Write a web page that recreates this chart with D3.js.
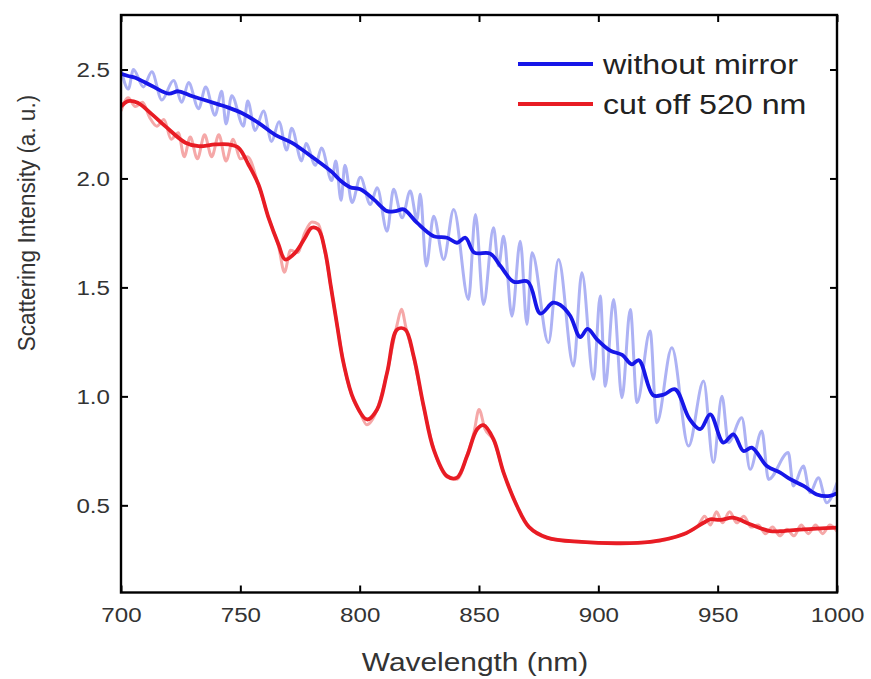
<!DOCTYPE html>
<html>
  <head>
    <script type="text/javascript" src="https://d3js.org/d3.v7.min.js"></script>
    <style>
      body { margin: 0; background: #fff; }
      text { font-family: "Liberation Sans", Arial, sans-serif; }
    </style>
  </head>
  <body>
  </body>
  <script>

  // ---- data ----
  var xTicks = [700, 750, 800, 850, 900, 950, 1000];
  var yTicks = [0.5, 1.0, 1.5, 2.0, 2.5];

  // smoothed "without mirror" curve [wavelength, intensity]
  var blueSmooth = [
    [700,2.48],[703,2.47],[706,2.462],[713,2.424],[720,2.389],[724,2.40],[729.6,2.378],[735,2.36],
    [740.8,2.34],[745,2.325],[750.6,2.30],[757.6,2.255],[764.6,2.20],[771.5,2.164],[779.9,2.10],
    [788.3,2.03],[792,1.99],[796,1.96],[800.3,1.95],[805.9,1.904],[811.5,1.85],[815,1.85],[818.4,1.858],
    [824,1.797],[831,1.735],[836.6,1.728],[840.8,1.705],[844.3,1.728],[848,1.66],[854.7,1.655],
    [859,1.598],[864.5,1.526],[870.5,1.526],[875.7,1.38],[881,1.43],[884,1.42],[888.2,1.37],
    [892.4,1.272],[895.5,1.31],[899.4,1.262],[905,1.21],[910,1.19],[914,1.147],[917,1.166],
    [923,1.005],[927.3,1.008],[932.2,1.032],[938,0.90],[942.7,0.85],[946.9,0.917],[952.4,0.788],
    [956.6,0.826],[960.8,0.749],[964.3,0.765],[970.6,0.68],[976.2,0.65],[980.4,0.62],[986,0.589],
    [991.5,0.55],[997,0.543],[1000,0.556]
  ];

  // raw (oscillating) "without mirror" trace
  var blueRaw = [
    [700,2.50],[703.1,2.41],[705.2,2.50],[709.4,2.42],[712.9,2.49],[717.1,2.36],[722,2.45],[725.5,2.35],
    [728.3,2.44],[732.5,2.32],[735.5,2.42],[739.4,2.29],[742.2,2.40],[744,2.25],[746.4,2.38],[751.3,2.24],
    [753.1,2.355],[756.2,2.22],[759.7,2.31],[763.1,2.17],[766.2,2.26],[769.4,2.13],[771.5,2.23],[775.7,2.08],
    [777.5,2.16],[781.5,2.06],[784,2.14],[788.3,1.99],[790,2.08],[792.2,1.90],
    [793.8,2.06],[796.8,1.89],[800.3,2.005],[804.5,1.88],[807.3,1.957],[811.5,1.758],[814.2,1.95],
    [817.8,1.82],[821.2,1.942],[824,1.812],[825.4,1.927],[827.9,1.598],[831,1.827],[835.2,1.628],
    [839.4,1.858],[845.6,1.445],[848.5,1.835],[851.9,1.422],[856.1,1.774],[858.2,1.598],[860.3,1.735],
    [863.8,1.368],[867.3,1.712],[870.1,1.33],[872.2,1.659],[879.1,1.246],[883.3,1.628],[889.6,1.139],
    [893.1,1.567],[898,1.078],[900.8,1.46],[902.9,1.047],[906.4,1.445],[909.9,0.994],[913.4,1.399],
    [916.2,0.971],[921.7,1.30],[924.5,0.879],[930.8,1.223],[937.8,0.772],[944.1,1.07],[948.2,0.696],
    [951.8,1.001],[954.5,0.788],[960.1,0.902],[963.6,0.665],[968.5,0.841],[971.3,0.619],[979.6,0.742],
    [981.7,0.589],[985.9,0.68],[988.7,0.558],[992.2,0.627],[995.7,0.512],[1000,0.604]
  ];

  // smoothed "cut off 520 nm" curve
  var redSmooth = [
    [700,2.33],[703,2.355],[707,2.347],[713,2.294],[718.5,2.24],[727,2.164],[732.5,2.148],[739.4,2.156],
    [745,2.156],[749.2,2.141],[753.4,2.064],[757.6,1.972],[761.8,1.82],[766,1.697],[768.8,1.628],
    [773,1.659],[777.1,1.728],[779.9,1.774],[782.7,1.766],[785.5,1.667],[788,1.50],[790.5,1.33],
    [793.3,1.15],[797.5,0.986],[803.1,0.894],[807.3,0.94],[811.5,1.109],[815.7,1.307],[819.1,1.307],
    [822.6,1.185],[826.8,0.955],[831,0.757],[836.6,0.634],[840.8,0.627],[845,0.726],[849.2,0.849],
    [851.9,0.868],[856.1,0.803],[860.3,0.65],[865.9,0.497],[871,0.40],[878.5,0.352],[893,0.332],
    [907.8,0.326],[921.7,0.332],[935.7,0.367],[944.1,0.42],[946.9,0.436],[951.1,0.433],[956.6,0.443],
    [963.6,0.413],[972,0.382],[977.6,0.382],[985.9,0.39],[1000,0.398]
  ];

  // raw "cut off 520 nm" trace
  var redRaw = [
    [700,2.31],[703,2.37],[706,2.33],[709,2.35],[712,2.28],[715,2.24],[718,2.27],[721,2.18],[724,2.21],
    [726.5,2.10],[729,2.19],[732,2.09],[735,2.20],[738,2.10],[741,2.20],[744,2.08],[747,2.18],[750,2.09],
    [753,2.10],[757.6,1.97],[761.8,1.82],[766,1.69],[768.5,1.57],[771,1.67],[774,1.66],[777,1.75],
    [780,1.80],[782.7,1.79],[785.5,1.66],[788,1.50],[790.5,1.33],[793.3,1.15],[797.5,0.98],[800,0.93],
    [803,0.87],[807.3,0.94],[811.5,1.11],[815.7,1.33],[817.5,1.40],[819.5,1.31],[822.6,1.18],[826.8,0.95],
    [831,0.76],[836.6,0.63],[840.8,0.62],[845,0.73],[848,0.84],[850,0.94],[852.5,0.85],[856.1,0.80],
    [860.3,0.65],[865.9,0.50],[871,0.40],[878.5,0.35],[893,0.33],[907.8,0.325],[921.7,0.33],[935.7,0.37],
    [942,0.41],[944.5,0.45],[947,0.41],[949.5,0.47],[952,0.42],[955,0.47],[958,0.42],[961,0.45],[964,0.40],
    [967,0.41],[970,0.37],[973,0.40],[976,0.36],[979,0.39],[982,0.36],[985,0.41],[988,0.37],[991,0.41],
    [994,0.37],[997,0.41],[1000,0.38]
  ];

  var seriesNames = ["without mirror", "cut off 520 nm"];
  var seriesColors = ["#1616e8", "#e81c24"];
  var rawColors = ["#adb2f4", "#f5a8a8"];

  // ---- layout ----
  var mLeft = 121, mRight = 837, mTop = 15, mBottom = 592.5;
  var sx = 1.15; // the picture is slightly stretched horizontally

  var svg = d3.select("body").append("svg")
              .attr("width", 871)
              .attr("height", 679);

  var x = d3.scaleLinear().domain([700, 1000]).range([mLeft, mRight]);
  var y = d3.scaleLinear().domain([0.1, 2.75]).range([mBottom, mTop]);

  svg.append("clipPath").attr("id", "plot")
     .append("rect").attr("x", mLeft).attr("y", mTop)
     .attr("width", mRight - mLeft).attr("height", mBottom - mTop);

  var rawLine = d3.line()
                  .x(function(d) { return x(d[0]); })
                  .y(function(d) { return y(d[1]); })
                  .curve(d3.curveMonotoneX);

  var smoothLine = d3.line()
                     .x(function(d) { return x(d[0]); })
                     .y(function(d) { return y(d[1]); })
                     .curve(d3.curveCatmullRom);

  var plot = svg.append("g").attr("clip-path", "url(#plot)");

  // raw traces first, underneath
  [blueRaw, redRaw].forEach(function(data, i) {
    plot.append("path").datum(data)
        .attr("d", rawLine)
        .attr("fill", "none")
        .attr("stroke", rawColors[i])
        .attr("stroke-width", 3)
        .attr("stroke-linejoin", "round");
  });

  [blueSmooth, redSmooth].forEach(function(data, i) {
    plot.append("path").datum(data)
        .attr("d", smoothLine)
        .attr("fill", "none")
        .attr("stroke", seriesColors[i])
        .attr("stroke-width", 3.8)
        .attr("stroke-linejoin", "round");
  });

  // ---- axes (ticks point inward on all four sides) ----
  function stretchText(sel) {
    sel.each(function() {
      var t = d3.select(this);
      var tx = +t.attr("x") || 0;
      t.attr("transform", "translate(" + tx + ",0) scale(" + sx + ",1)").attr("x", 0);
    });
  }

  function styleAxis(g) {
    g.select(".domain").remove();
    g.selectAll(".tick line").attr("stroke", "#000").attr("stroke-width", 2);
    g.selectAll(".tick text")
     .attr("fill", "#333")
     .style("font-size", "21px")
     .call(stretchText);
  }

  svg.append("g").attr("transform", "translate(0," + mBottom + ")")
     .call(d3.axisBottom(x).tickValues(xTicks).tickFormat(d3.format("d"))
             .tickSizeInner(-7).tickSizeOuter(0).tickPadding(15))
     .call(styleAxis);

  svg.append("g").attr("transform", "translate(0," + mTop + ")")
     .call(d3.axisTop(x).tickValues(xTicks).tickSizeInner(-7).tickSizeOuter(0).tickFormat(""))
     .call(styleAxis);

  svg.append("g").attr("transform", "translate(" + mLeft + ",0)")
     .call(d3.axisLeft(y).tickValues(yTicks).tickFormat(d3.format(".1f"))
             .tickSizeInner(-7).tickSizeOuter(0).tickPadding(11))
     .call(styleAxis);

  svg.append("g").attr("transform", "translate(" + mRight + ",0)")
     .call(d3.axisRight(y).tickValues(yTicks).tickSizeInner(-7).tickSizeOuter(0).tickFormat(""))
     .call(styleAxis);

  svg.append("rect")
     .attr("x", mLeft).attr("y", mTop)
     .attr("width", mRight - mLeft).attr("height", mBottom - mTop)
     .attr("fill", "none").attr("stroke", "#000").attr("stroke-width", 2.4);

  // ---- titles ----
  svg.append("text")
     .attr("transform", "translate(475,671) scale(" + sx + ",1)")
     .attr("text-anchor", "middle")
     .attr("fill", "#333")
     .style("font-size", "26px")
     .text("Wavelength (nm)");

  svg.append("text")
     .attr("transform", "translate(26,223) scale(1.1,1) rotate(-90)")
     .attr("text-anchor", "middle")
     .attr("dy", "0.35em")
     .attr("fill", "#333")
     .style("font-size", "22.5px")
     .text("Scattering Intensity (a. u.)");

  // ---- legend ----
  var legend = svg.append("g");
  var legendY = [64, 104];
  seriesNames.forEach(function(name, i) {
    legend.append("line")
          .attr("x1", 518).attr("x2", 593)
          .attr("y1", legendY[i]).attr("y2", legendY[i])
          .attr("stroke", seriesColors[i]).attr("stroke-width", 3.8);
    legend.append("text")
          .attr("transform", "translate(603," + (legendY[i] + 10) + ") scale(" + sx + ",1)")
          .attr("fill", "#222")
          .style("font-size", "28px")
          .text(name);
  });

  </script>
</html>
